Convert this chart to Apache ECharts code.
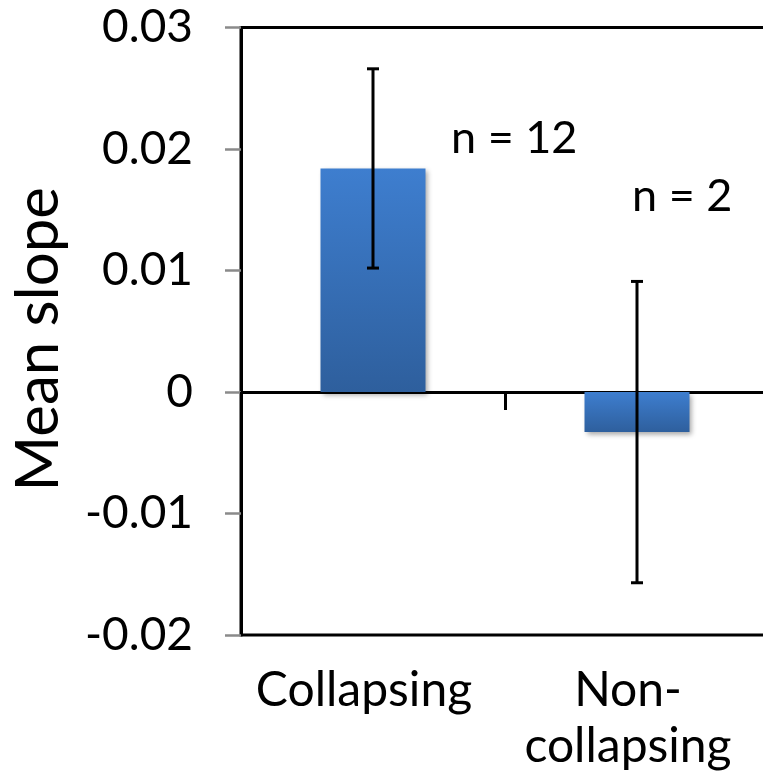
<!DOCTYPE html>
<html>
<head>
<meta charset="utf-8">
<script src="https://cdn.jsdelivr.net/npm/echarts@6/dist/echarts.min.js"></script>
<style>
  html, body { margin: 0; padding: 0; background: #ffffff; }
  #chart { width: 763px; height: 778px; }
</style>
</head>
<body>
<div id="chart"></div>
<script>
// Group labels along the category axis
const categories = ['Collapsing', 'Non-\ncollapsing'];
// Mean slope per group and the half-length of its error bar
const meanSlope = [0.0184, -0.0033];
const slopeError = [0.0082, 0.0124];
// Sample sizes written beside the bars
const sampleLabels = ['n = 12', 'n = 2'];
// Value axis range and step
const yMin = -0.02;
const yMax = 0.03;
const yStep = 0.01;

const FONT = 'Lato, "Open Sans", sans-serif';

const errorData = meanSlope.map((m, i) => [i, m - slopeError[i], m + slopeError[i]]);

const chart = echarts.init(document.getElementById('chart'), null, { renderer: 'canvas' });

chart.setOption({
  backgroundColor: '#ffffff',
  animation: false,
  grid: {
    left: 241,
    width: 528,
    top: 27.5,
    bottom: 143,
    outerBoundsMode: 'none',
    containLabel: false,
    show: true,
    borderColor: '#000000',
    borderWidth: 3,
    backgroundColor: 'transparent'
  },
  xAxis: [
    {
      // zero line with the category divider tick
      type: 'category',
      data: categories,
      position: 'bottom',
      axisLine: { onZero: true, lineStyle: { color: '#000000', width: 3 } },
      axisTick: { show: true, length: 18, lineStyle: { color: '#000000', width: 3 } },
      axisLabel: { show: false },
      splitLine: { show: false }
    },
    {
      // category names along the bottom of the frame
      type: 'category',
      data: categories,
      position: 'bottom',
      axisLine: { show: false, onZero: false },
      axisTick: { show: false },
      splitLine: { show: false },
      axisLabel: {
        show: true,
        interval: 0,
        margin: 28,
        color: '#000000',
        fontFamily: FONT,
        fontSize: 48,
        lineHeight: 56,
        padding: [0, 18, 0, 0]
      }
    }
  ],
  yAxis: {
    type: 'value',
    min: yMin,
    max: yMax,
    interval: yStep,
    name: 'Mean slope',
    nameLocation: 'middle',
    nameRotate: 90,
    nameGap: 172,
    nameTextStyle: {
      color: '#000000',
      fontFamily: FONT,
      fontSize: 60,
      padding: [0, 16, 0, 0]
    },
    axisLine: { show: true, lineStyle: { color: '#000000', width: 3 } },
    axisTick: { show: true, length: 16, lineStyle: { color: '#8a8a8a', width: 2.5 } },
    splitLine: { show: false },
    axisLabel: {
      margin: 48,
      color: '#000000',
      fontFamily: FONT,
      fontSize: 46,
      formatter: v => (Math.abs(v) < 1e-9 ? '0' : String(Math.round(v * 100) / 100))
    }
  },
  series: [
    {
      type: 'bar',
      xAxisIndex: 0,
      data: meanSlope,
      barWidth: 105,
      itemStyle: {
        color: new echarts.graphic.LinearGradient(0, 0, 0, 1, [
          { offset: 0, color: '#3e7ecf' },
          { offset: 1, color: '#2e5f9d' }
        ]),
        shadowColor: 'rgba(0,0,0,0.35)',
        shadowBlur: 5,
        shadowOffsetX: 2,
        shadowOffsetY: 3
      },
      z: 2
    },
    {
      type: 'custom',
      xAxisIndex: 0,
      data: errorData,
      z: 5,
      renderItem: function (params, api) {
        const i = api.value(0);
        const lo = api.coord([i, api.value(1)]);
        const hi = api.coord([i, api.value(2)]);
        const cap = 6;
        const style = { stroke: '#000000', lineWidth: 3 };
        return {
          type: 'group',
          children: [
            { type: 'line', shape: { x1: hi[0], y1: hi[1], x2: lo[0], y2: lo[1] }, style: style },
            { type: 'line', shape: { x1: hi[0] - cap, y1: hi[1], x2: hi[0] + cap, y2: hi[1] }, style: style },
            { type: 'line', shape: { x1: lo[0] - cap, y1: lo[1], x2: lo[0] + cap, y2: lo[1] }, style: style }
          ]
        };
      }
    }
  ],
  graphic: [
    {
      type: 'text',
      left: 451,
      top: 116,
      style: { text: sampleLabels[0], fill: '#000000', font: '45px ' + FONT }
    },
    {
      type: 'text',
      left: 632,
      top: 174,
      style: { text: sampleLabels[1], fill: '#000000', font: '45px ' + FONT }
    }
  ]
});
</script>
</body>
</html>
